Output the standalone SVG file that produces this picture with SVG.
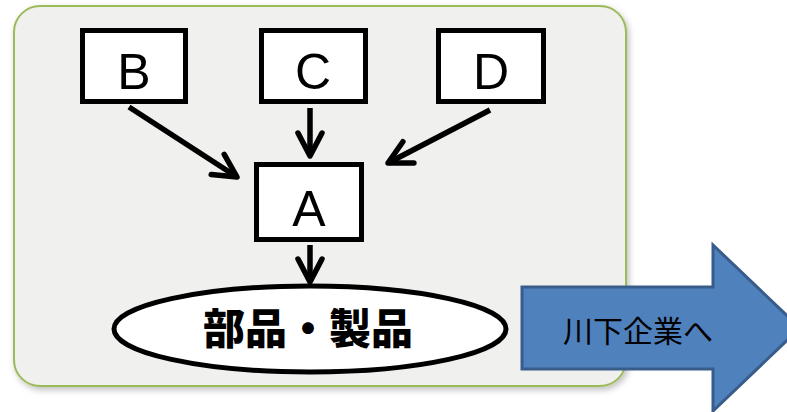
<svg xmlns="http://www.w3.org/2000/svg" width="787" height="412" viewBox="0 0 787 412">
<style>
.box{fill:#ffffff;stroke:#000000;stroke-width:5}
.lbl{font-family:"Liberation Sans",Arial,sans-serif;font-size:50px;fill:#000000;text-anchor:middle}
.conn{stroke:#000000;stroke-width:5.5;fill:none}
</style>
<defs>
<filter id="sh" x="-5%" y="-5%" width="112%" height="115%">
<feDropShadow dx="2" dy="3" stdDeviation="3" flood-color="#000000" flood-opacity="0.25"/>
</filter>
<marker id="chev" markerUnits="userSpaceOnUse" markerWidth="32" markerHeight="32" viewBox="0 0 32 32" refX="28" refY="16" orient="auto">
<path d="M5,4 L28,16 L5,28" fill="none" stroke="#000000" stroke-width="5.5" stroke-linecap="round" stroke-linejoin="round"/>
</marker>
</defs>
<g id="container">
<rect x="14" y="6" width="612" height="380" rx="26" ry="26" fill="#f0f0ee" stroke="#9bbb59" stroke-width="2" filter="url(#sh)"/>
</g>
<g id="connectors">
<line class="conn" x1="129" y1="107" x2="237" y2="177" marker-end="url(#chev)"/>
<line class="conn" x1="310" y1="108" x2="310" y2="156" marker-end="url(#chev)"/>
<line class="conn" x1="490" y1="110" x2="388" y2="163" marker-end="url(#chev)"/>
<line class="conn" x1="310" y1="245" x2="310" y2="282" marker-end="url(#chev)"/>
</g>
<g id="node-B">
<rect class="box" x="82.5" y="30.5" width="103" height="71"/>
<text class="lbl" x="134" y="89">B</text>
</g>
<g id="node-C">
<rect class="box" x="261.5" y="30.5" width="104" height="71"/>
<text class="lbl" x="313" y="89">C</text>
</g>
<g id="node-D">
<rect class="box" x="438.5" y="30.5" width="105" height="71"/>
<text class="lbl" x="491" y="89">D</text>
</g>
<g id="node-A">
<rect class="box" x="256.5" y="164.5" width="105" height="75"/>
<text class="lbl" x="309" y="226">A</text>
</g>
<g id="node-product">
<ellipse cx="310" cy="329" rx="196" ry="43" fill="#ffffff" stroke="#000000" stroke-width="5"/>
<text x="308" y="344" font-family="'Noto Sans CJK JP','Noto Sans CJK SC',sans-serif" font-weight="900" font-size="42" text-anchor="middle" fill="#000000">部品・製品</text>
</g>
<g id="node-downstream">
<polygon points="522,287 713,287 713,245 800,328 713,411 713,369 522,369" fill="#4f81bd" stroke="#385d8a" stroke-width="3" stroke-linejoin="miter"/>
<text x="638" y="342" font-family="'Noto Sans CJK JP','Noto Sans CJK SC',sans-serif" font-size="30" text-anchor="middle" fill="#000000">川下企業へ</text>
</g>
</svg>
